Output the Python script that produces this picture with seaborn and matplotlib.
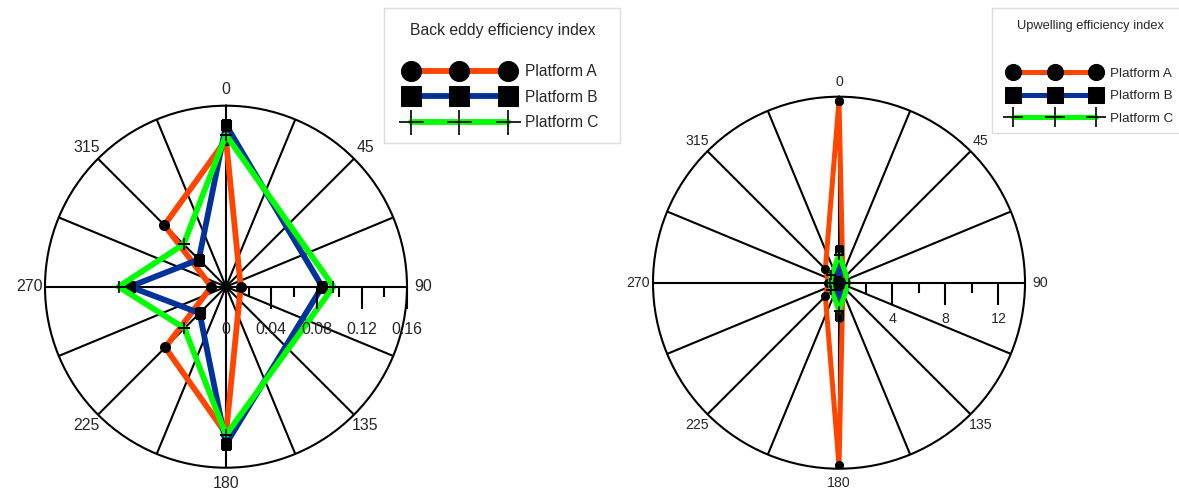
import numpy as np
import seaborn as sns
import matplotlib.pyplot as plt
from matplotlib.patches import Rectangle

# directions that carry a value (degrees, clockwise from north)
directions = [0, 90, 180, 225, 270, 315]
platforms = ['Platform A', 'Platform B', 'Platform C']

back_eddy_a = [0.130, 0.013, 0.130, 0.076, 0.013, 0.077]
back_eddy_b = [0.143, 0.085, 0.139, 0.033, 0.085, 0.034]
back_eddy_c = [0.134, 0.095, 0.131, 0.052, 0.095, 0.053]

upwelling_a = [13.7, 0.3, 13.75, 1.45, 0.8, 1.45]
upwelling_b = [2.45, 0.15, 2.5, 0.2, 0.15, 0.2]
upwelling_c = [2.1, 0.75, 2.1, 0.8, 0.65, 0.8]

angle_labels = ['0', '45', '90', '135', '180', '225', '270', '315']
back_eddy_rticks = [0.02, 0.04, 0.06, 0.08, 0.10, 0.12, 0.14, 0.16]
back_eddy_rlabels = [0, 0.04, 0.08, 0.12, 0.16]
upwelling_rticks = [2, 4, 6, 8, 10, 12]
upwelling_rlabels = [0, 4, 8, 12]

colors = ['#ff4500', '#003399', '#00ff00']
markers = ['o', 's', '+']

sns.set_style('white')
plt.rcParams['font.family'] = ['Liberation Sans', 'DejaVu Sans']

fig = plt.figure(figsize=(11.79, 4.93), dpi=100)


def draw_panel(ax, series, rmax, rticks, rlabels, major_step, ms, lw, fs, label_off, pad):
    theta = np.deg2rad(directions + [360])
    for vals, name, c, m in zip(series, platforms, colors, markers):
        r = vals + [vals[0]]
        if m == '+':
            mk = dict(marker='+', markersize=ms * 1.25, markeredgecolor='k', markeredgewidth=1.2)
        else:
            mk = dict(marker=m, markersize=ms, markerfacecolor='k', markeredgecolor='k')
        sns.lineplot(x=theta, y=r, sort=False, estimator=None, color=c, lw=lw,
                     label=name, legend=False, ax=ax, **mk)
    ax.set_theta_zero_location('N')
    ax.set_theta_direction(-1)
    spokes = np.arange(0, 360, 22.5)
    ax.set_thetagrids(spokes, [angle_labels[i // 2] if i % 2 == 0 else '' for i in range(16)])
    ax.set_yticks([])
    ax.set_ylim(0, rmax)
    ax.grid(True, axis='x', color='k', lw=1.5)
    ax.grid(False, axis='y')
    ax.spines['polar'].set_color('k')
    ax.spines['polar'].set_linewidth(1.5)
    ax.tick_params(axis='x', labelsize=fs, pad=pad, length=0)
    ax.set_xlabel('')
    ax.set_ylabel('')
    # radial scale drawn along the 90 degree spoke
    major = [t for t in rticks if abs(t / major_step - round(t / major_step)) < 1e-6]
    minor = [t for t in rticks if t not in major]
    ax.plot(np.full(len(major), np.pi / 2), major, ls='none', marker=3,
            ms=15.5, mew=1.5, color='k', clip_on=False)
    ax.plot(np.full(len(minor), np.pi / 2), minor, ls='none', marker=3,
            ms=7, mew=1.5, color='k', clip_on=False)
    for v in rlabels:
        ax.annotate(f'{v:g}', xy=(np.pi / 2, v), xytext=(0, -label_off),
                    textcoords='offset points', ha='center', va='center', fontsize=fs)


ax1 = fig.add_axes([45 / 1179, 25.3 / 493, 362 / 1179, 362 / 493], projection='polar')
draw_panel(ax1, [back_eddy_a, back_eddy_b, back_eddy_c], 0.16, back_eddy_rticks,
           back_eddy_rlabels, 0.04, 7.2, 4.2, 11.4, 31, 4.5)

ax2 = fig.add_axes([653 / 1179, 24.3 / 493, 372 / 1179, 372 / 493], projection='polar')
draw_panel(ax2, [upwelling_a, upwelling_b, upwelling_c], 14, upwelling_rticks,
           upwelling_rlabels, 4, 5.8, 3.6, 10.2, 26.4, 3.6)

# legends with their titles and frames
h1, l1 = ax1.get_legend_handles_labels()
fig.legend(h1, l1, loc='upper left', bbox_to_anchor=(406 / 1179, 1 - 64 / 493),
           frameon=False, numpoints=3, markerscale=2, handlelength=6.84,
           handletextpad=0.83, labelspacing=0.68, borderpad=0, borderaxespad=0,
           fontsize=11.2)
fig.text(503 / 1179, 1 - 30 / 493, 'Back eddy efficiency index', ha='center',
         va='center', fontsize=11.3)
fig.add_artist(Rectangle((384 / 1179, 1 - 143 / 493), 236 / 1179, 135 / 493,
                         transform=fig.transFigure, fill=False, ec='#dddddd', lw=1))

h2, l2 = ax2.get_legend_handles_labels()
fig.legend(h2, l2, loc='upper left', bbox_to_anchor=(1009 / 1179, 1 - 67.3 / 493),
           frameon=False, numpoints=3, markerscale=2, handlelength=6.84,
           handletextpad=0.75, labelspacing=0.77, borderpad=0, borderaxespad=0,
           fontsize=9.6)
fig.text(1090.5 / 1179, 1 - 25.5 / 493, 'Upwelling efficiency index', ha='center',
         va='center', fontsize=9.3)
fig.add_artist(Rectangle((992 / 1179, 1 - 133 / 493), 0.2, 125 / 493,
                         transform=fig.transFigure, fill=False, ec='#dddddd', lw=1,
                         clip_on=False))

fig.savefig('out.png', dpi=100)
